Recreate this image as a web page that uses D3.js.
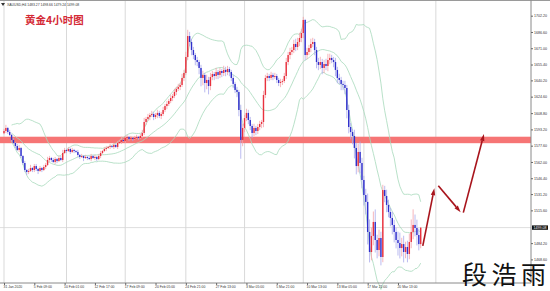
<!DOCTYPE html>
<html>
<head>
<meta charset="utf-8">
<script src="https://cdn.jsdelivr.net/npm/d3@7/dist/d3.min.js"></script>
<style>
  html, body { margin: 0; padding: 0; background: #fff; }
  svg { display: block; }
</style>
</head>
<body>
<div id="chart"></div>
<script>
// ---- dados do gráfico (XAUUSD H4) ----
const symbolInfo = "XAUUSD,H4  1483.27 1498.66 1479.24 1499.08";
const chartTitle = "黄金4小时图";
const signature = "段浩雨";

const firstOpen = 1589.5;
const closes = [
  1591.7, 1594.6, 1590.7, 1587.9, 1583.1, 1580.2, 1577.3, 1573.5, 1575.4, 1567.7,
  1561.0, 1554.3, 1552.4, 1553.4, 1556.2, 1554.3, 1558.1, 1555.3, 1553.4, 1556.2,
  1554.3, 1557.2, 1559.1, 1563.9, 1565.8, 1563.9, 1562.0, 1564.8, 1562.9, 1565.8,
  1563.9, 1570.6, 1573.5, 1572.5, 1574.4, 1571.6, 1573.5, 1572.5, 1571.6, 1568.7,
  1566.8, 1567.7, 1565.8, 1566.8, 1565.8, 1564.8, 1567.7, 1565.8, 1566.8, 1564.8,
  1567.7, 1570.6, 1572.5, 1574.4, 1575.4, 1576.4, 1577.3, 1576.4, 1578.3, 1576.4,
  1580.2, 1581.2, 1583.1, 1582.1, 1585.0, 1586.0, 1584.0, 1585.0, 1584.0, 1585.0,
  1586.0, 1585.0, 1586.9, 1589.8, 1600.3, 1603.2, 1605.1, 1607.0, 1608.0, 1605.1,
  1607.0, 1609.0, 1606.1, 1608.0, 1611.8, 1615.6, 1617.6, 1620.4, 1623.3, 1625.2,
  1629.1, 1632.0, 1633.9, 1635.8, 1642.5, 1647.3, 1662.6, 1682.7, 1677.0, 1669.3,
  1664.5, 1659.7, 1657.8, 1652.1, 1642.5, 1645.4, 1637.7, 1640.6, 1634.8, 1643.4,
  1646.3, 1644.4, 1648.2, 1645.4, 1649.2, 1647.3, 1650.2, 1648.2, 1651.1, 1648.2,
  1642.5, 1636.8, 1631.0, 1629.1, 1611.8, 1583.1, 1594.6, 1604.1, 1609.0, 1602.2,
  1596.5, 1589.8, 1594.6, 1591.7, 1595.5, 1598.4, 1600.3, 1626.2, 1642.5, 1644.4,
  1642.5, 1645.4, 1643.4, 1644.4, 1640.6, 1637.7, 1638.7, 1639.6, 1644.4, 1657.8,
  1664.5, 1667.4, 1669.3, 1675.1, 1672.2, 1677.0, 1680.8, 1685.6, 1698.1, 1664.5,
  1667.4, 1671.2, 1675.1, 1677.0, 1669.3, 1657.8, 1655.0, 1657.8, 1652.1, 1655.9,
  1654.0, 1659.7, 1661.7, 1659.7, 1657.8, 1650.2, 1642.5, 1640.6, 1636.8, 1635.8,
  1632.9, 1611.8, 1595.5, 1590.7, 1586.9, 1575.4, 1558.1, 1571.6, 1561.0, 1544.7,
  1530.3, 1523.7, 1494.9, 1475.7, 1491.1, 1504.5, 1487.2, 1477.6, 1489.1, 1470.9,
  1535.1, 1529.4, 1520.8, 1514.0, 1508.3, 1501.6, 1494.9, 1487.2, 1484.3, 1479.5,
  1483.3, 1475.7, 1480.5, 1473.8, 1485.3, 1494.9, 1501.6, 1498.7, 1492.0, 1483.27,
  1499.08
];
const upperWicks = [
  2, 3, 1, 2, 1, 2, 1, 2, 3, 1,
  1, 2, 1, 2, 3, 1, 2, 2, 1, 2,
  1, 2, 2, 3, 2, 1, 2, 2, 1, 2,
  2, 3, 2, 1, 2, 1, 2, 1, 1, 2,
  1, 2, 1, 2, 1, 2, 2, 1, 2, 1,
  2, 2, 1, 2, 2, 1, 2, 1, 2, 1,
  2, 2, 3, 1, 2, 2, 1, 2, 1, 2,
  2, 1, 2, 3, 4, 2, 3, 2, 3, 2,
  2, 3, 2, 2, 3, 2, 3, 2, 3, 2,
  3, 2, 3, 2, 4, 3, 5, 6, 4, 3,
  3, 2, 3, 2, 3, 4, 2, 5, 3, 4,
  3, 2, 4, 2, 3, 2, 4, 3, 3, 2,
  2, 3, 2, 3, 2, 5, 4, 3, 4, 3,
  3, 2, 4, 2, 3, 3, 2, 4, 3, 3,
  2, 3, 2, 3, 2, 2, 3, 2, 3, 4,
  3, 4, 3, 4, 5, 4, 5, 4, 3, 1,
  4, 3, 5, 4, 3, 3, 4, 5, 3, 4,
  5, 6, 4, 3, 3, 4, 3, 4, 3, 3,
  4, 3, 5, 4, 3, 6, 5, 8, 10, 5,
  4, 6, 8, 12, 8, 10, 12, 5, 8, 6,
  5, 4, 6, 5, 4, 6, 5, 4, 8, 10,
  6, 8, 5, 6, 8, 12, 15, 10, 8, 6,
  0
];
const lowerWicks = [
  1, 2, 2, 1, 2, 1, 2, 1, 2, 2,
  2, 2, 3, 2, 1, 2, 2, 2, 3, 1,
  2, 1, 2, 1, 2, 2, 1, 2, 2, 1,
  1, 2, 1, 2, 1, 2, 1, 2, 1, 2,
  2, 1, 3, 1, 2, 1, 2, 1, 2, 2,
  1, 2, 1, 1, 2, 1, 2, 1, 2, 1,
  2, 1, 2, 1, 2, 1, 2, 1, 2, 1,
  1, 2, 1, 2, 2, 3, 2, 3, 2, 3,
  2, 3, 2, 3, 2, 2, 3, 2, 2, 3,
  2, 3, 2, 3, 2, 3, 2, 3, 4, 5,
  4, 5, 4, 6, 8, 7, 9, 6, 8, 4,
  3, 4, 3, 4, 3, 4, 3, 4, 3, 4,
  3, 4, 3, 5, 6, 18, 6, 4, 3, 4,
  4, 5, 3, 4, 3, 3, 4, 5, 3, 3,
  3, 2, 3, 2, 3, 3, 4, 3, 2, 3,
  3, 4, 3, 3, 4, 3, 4, 4, 5, 5,
  4, 3, 4, 3, 5, 6, 5, 4, 6, 5,
  4, 5, 4, 3, 5, 6, 5, 4, 6, 5,
  6, 8, 6, 7, 8, 10, 8, 6, 10, 8,
  10, 12, 12, 10, 8, 9, 12, 8, 6, 8,
  5, 6, 7, 5, 8, 9, 10, 8, 12, 10,
  8, 10, 6, 8, 5, 6, 7, 8, 10, 6,
  4
];

// rótulos do eixo de tempo (um a cada 16 barras)
const timeLabels = ["31 Jan 2020", "5 Feb 09:00", "10 Feb 01:00", "12 Feb 17:00", "17 Feb 09:00",
  "20 Feb 05:00", "24 Feb 21:00", "27 Feb 13:00", "3 Mar 05:00", "5 Mar 21:00",
  "10 Mar 13:00", "13 Mar 05:00", "17 Mar 21:00", "20 Mar 13:00"];
const timeLabelBars = [0, 16, 32, 48, 64, 80, 96, 112, 128, 144, 160, 176, 192, 208];
const gridBars = [0, 33, 64, 96, 127, 158, 190, 228];

// rótulos do eixo de preço
const priceTicks = [1702.20, 1686.60, 1671.00, 1655.40, 1640.20, 1624.60, 1608.80, 1593.20,
  1577.60, 1562.00, 1546.40, 1531.20, 1515.60, 1484.20, 1468.60];
const lastPrice = 1499.08;

// zona de resistência e setas de previsão (barra, preço)
const resistanceZone = [1580.0, 1586.2];
const forecastArrows = [
  { from: [221.1, 1481.5], to: [227.2, 1536.8] },
  { from: [229.3, 1539.3], to: [241.1, 1513.8] },
  { from: [242.5, 1513.4], to: [253.4, 1588.8] }
];
const bandPeriod = 20;
const bandDeviation = 2;

// ---- configuração ----
const svgWidth = 550;
const svgHeight = 291;
const plotRight = 531;
const plotBottom = 283;

const svg = d3.select("#chart")
  .append("svg")
  .attr("width", svgWidth)
  .attr("height", svgHeight);

svg.append("rect")
  .attr("width", svgWidth)
  .attr("height", svgHeight)
  .attr("fill", "#fff");

// escalas
const x = d3.scaleLinear().domain([0, 220]).range([4, 420.7]);
const y = d3.scaleLinear().domain([1468.6, 1702.2]).range([259.4, 15.7]);

// velas
const candles = closes.map((c, i) => {
  const o = i === 0 ? firstOpen : closes[i - 1];
  return {
    i: i,
    o: o,
    c: c,
    h: Math.max(o, c) + upperWicks[i],
    l: Math.min(o, c) - lowerWicks[i]
  };
});

// bandas de Bollinger
const bands = [];
for (let i = 4; i < closes.length; i++) {
  const win = closes.slice(Math.max(0, i - bandPeriod + 1), i + 1);
  const mean = d3.mean(win);
  const sd = Math.sqrt(d3.mean(win, v => (v - mean) * (v - mean)));
  bands.push({ i: i, mid: mean, up: mean + bandDeviation * sd, lo: mean - bandDeviation * sd });
}

const plot = svg.append("g");

// linhas verticais da grade
plot.selectAll(".grid")
  .data(gridBars)
  .enter()
  .append("line")
  .attr("x1", d => x(d))
  .attr("x2", d => x(d))
  .attr("y1", 1)
  .attr("y2", plotBottom)
  .attr("stroke", "#cfcfcf")
  .attr("stroke-width", 0.8);

// linha do último preço
plot.append("line")
  .attr("x1", 0)
  .attr("x2", plotRight)
  .attr("y1", y(lastPrice))
  .attr("y2", y(lastPrice))
  .attr("stroke", "#d4d4d4")
  .attr("stroke-width", 0.8);

// zona de resistência
plot.append("rect")
  .attr("x", 0)
  .attr("width", plotRight)
  .attr("y", y(resistanceZone[1]))
  .attr("height", y(resistanceZone[0]) - y(resistanceZone[1]))
  .attr("fill", "#f67575");

// bandas
["up", "mid", "lo"].forEach(k => {
  plot.append("path")
    .datum(bands)
    .attr("fill", "none")
    .attr("stroke", "#a7d9bb")
    .attr("stroke-width", 0.8)
    .attr("d", d3.line().x(d => x(d.i)).y(d => y(d[k])));
});

// pavios
plot.selectAll(".wick")
  .data(candles)
  .enter()
  .append("line")
  .attr("x1", d => x(d.i))
  .attr("x2", d => x(d.i))
  .attr("y1", d => y(d.h))
  .attr("y2", d => y(d.l))
  .attr("stroke", d => d.c >= d.o ? "#f3a3ab" : "#a9a9ec")
  .attr("stroke-width", 0.8);

// corpos
plot.selectAll(".body")
  .data(candles)
  .enter()
  .append("rect")
  .attr("x", d => x(d.i) - 0.7)
  .attr("width", 1.4)
  .attr("y", d => y(Math.max(d.o, d.c)))
  .attr("height", d => Math.max(0.8, Math.abs(y(d.o) - y(d.c))))
  .attr("fill", d => d.c >= d.o ? "#e8323e" : "#2f2fcc");

// setas de previsão
const arrowColor = "#a8141c";
forecastArrows.forEach(a => {
  const x1 = x(a.from[0]), y1 = y(a.from[1]);
  const x2 = x(a.to[0]), y2 = y(a.to[1]);
  const len = Math.hypot(x2 - x1, y2 - y1);
  const ux = (x2 - x1) / len, uy = (y2 - y1) / len;
  const headLen = 7, headW = 2.2;
  const bx = x2 - ux * headLen, by = y2 - uy * headLen;
  plot.append("line")
    .attr("x1", x1).attr("y1", y1)
    .attr("x2", bx).attr("y2", by)
    .attr("stroke", arrowColor)
    .attr("stroke-width", 1.6);
  plot.append("path")
    .attr("d", `M${x2},${y2}L${bx - uy * headW},${by + ux * headW}L${bx + uy * headW},${by - ux * headW}Z`)
    .attr("fill", arrowColor);
});

// bordas
svg.append("line")
  .attr("x1", 0).attr("x2", svgWidth)
  .attr("y1", 0.5).attr("y2", 0.5)
  .attr("stroke", "#9a9a9a").attr("stroke-width", 1);
svg.append("line")
  .attr("x1", plotRight).attr("x2", plotRight)
  .attr("y1", 0).attr("y2", plotBottom)
  .attr("stroke", "#8a8a8a").attr("stroke-width", 1);
svg.append("line")
  .attr("x1", 0).attr("x2", plotRight)
  .attr("y1", plotBottom).attr("y2", plotBottom)
  .attr("stroke", "#8a8a8a").attr("stroke-width", 1);

// eixo Y (direita)
svg.append("g")
  .attr("transform", `translate(${plotRight}, 0)`)
  .call(d3.axisRight(y).tickValues(priceTicks).tickSize(2).tickPadding(1).tickFormat(d3.format(".2f")))
  .call(g => g.select(".domain").remove())
  .call(g => g.selectAll("line").attr("stroke", "#666"))
  .call(g => g.selectAll("text")
    .attr("font-family", "Liberation Sans, Arial, sans-serif")
    .attr("font-size", 3.6)
    .attr("fill", "#333"));

// etiqueta do último preço
svg.append("rect")
  .attr("x", plotRight + 1)
  .attr("width", 16)
  .attr("y", y(lastPrice) - 2.2)
  .attr("height", 4.4)
  .attr("fill", "#111");
svg.append("text")
  .attr("x", plotRight + 2.5)
  .attr("y", y(lastPrice))
  .attr("dy", "0.35em")
  .attr("font-family", "Liberation Sans, Arial, sans-serif")
  .attr("font-size", 3.6)
  .attr("fill", "#fff")
  .text(lastPrice.toFixed(2));

// eixo X (tempo)
svg.append("g")
  .attr("transform", `translate(0, ${plotBottom})`)
  .call(d3.axisBottom(x).tickValues(timeLabelBars).tickSize(2).tickPadding(1)
    .tickFormat((d, i) => timeLabels[i]))
  .call(g => g.select(".domain").remove())
  .call(g => g.selectAll("line").attr("stroke", "#666"))
  .call(g => g.selectAll("text")
    .attr("text-anchor", "start")
    .attr("dx", -1)
    .attr("font-family", "Liberation Sans, Arial, sans-serif")
    .attr("font-size", 3.4)
    .attr("fill", "#333"));

// cabeçalho
svg.append("path")
  .attr("d", "M1,3L5,3L3,6Z")
  .attr("fill", "#333");
svg.append("text")
  .attr("x", 7)
  .attr("y", 6)
  .attr("font-family", "Liberation Sans, Arial, sans-serif")
  .attr("font-size", 3.4)
  .attr("fill", "#333")
  .text(symbolInfo);

svg.append("text")
  .attr("x", 25)
  .attr("y", 24)
  .attr("font-family", "Noto Sans CJK SC, sans-serif")
  .attr("font-weight", "bold")
  .attr("font-size", 10.5)
  .attr("fill", "#d42a36")
  .text(chartTitle);

// assinatura
svg.append("text")
  .attr("x", 462)
  .attr("y", 284)
  .attr("font-family", "Noto Sans CJK SC, sans-serif")
  .attr("font-size", 25)
  .attr("letter-spacing", 4.5)
  .attr("fill", "#111")
  .text(signature);
</script>
</body>
</html>
